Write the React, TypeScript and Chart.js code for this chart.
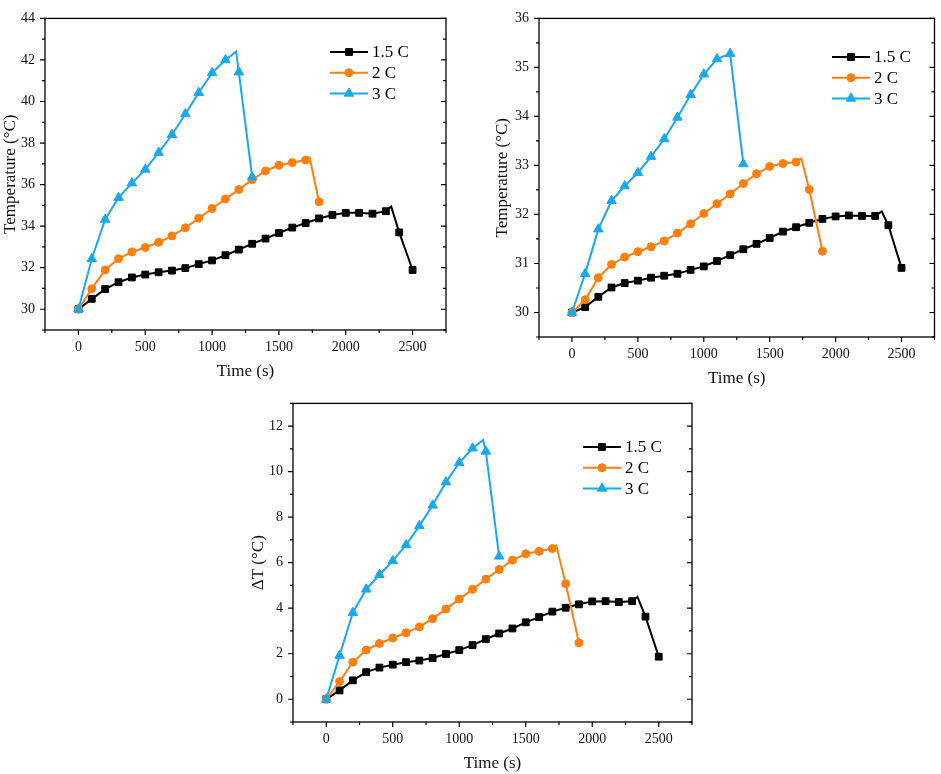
import React, { useEffect, useRef } from "react";
import { Chart, registerables } from "chart.js";

Chart.register(...registerables);

// ---------- shared labels ----------
const seriesNames = ["1.5 C", "2 C", "3 C"];
const xTickLabels = [0, 500, 1000, 1500, 2000, 2500];
const xMinorTicks = [-250, 250, 750, 1250, 1750, 2250, 2750];

// ---------- chart (a): Temperature ----------
const timeA15 = [0, 100, 200, 300, 400, 500, 600, 700, 800, 900, 1000, 1100, 1200, 1300, 1400, 1500, 1600, 1700, 1800, 1900, 2000, 2100, 2200, 2300, 2340, 2400, 2500];
const tempA15 = [30.0, 30.5, 30.97, 31.3, 31.53, 31.67, 31.78, 31.86, 31.98, 32.17, 32.35, 32.6, 32.87, 33.15, 33.4, 33.67, 33.93, 34.15, 34.37, 34.54, 34.64, 34.64, 34.6, 34.72, 34.94, 33.7, 31.89];
const timeA2 = [0, 100, 200, 300, 400, 500, 600, 700, 800, 900, 1000, 1100, 1200, 1300, 1400, 1500, 1600, 1700, 1730, 1800];
const tempA2 = [30.0, 30.99, 31.89, 32.43, 32.76, 32.97, 33.22, 33.53, 33.92, 34.38, 34.85, 35.31, 35.76, 36.24, 36.66, 36.93, 37.06, 37.18, 37.3, 35.17];
const timeA3 = [0, 100, 200, 300, 400, 500, 600, 700, 800, 900, 1000, 1100, 1180, 1200, 1300];
const tempA3 = [30.0, 32.43, 34.32, 35.37, 36.07, 36.73, 37.54, 38.4, 39.4, 40.42, 41.38, 42.0, 42.4, 41.41, 36.36];
const yTicksA = [30, 32, 34, 36, 38, 40, 42, 44];
const yMinorA = [29, 31, 33, 35, 37, 39, 41, 43];

// ---------- chart (b): Temperature ----------
const timeB15 = [0, 100, 200, 300, 400, 500, 600, 700, 800, 900, 1000, 1100, 1200, 1300, 1400, 1500, 1600, 1700, 1800, 1900, 2000, 2100, 2200, 2300, 2350, 2400, 2500];
const tempB15 = [30.0, 30.11, 30.32, 30.51, 30.6, 30.65, 30.71, 30.75, 30.79, 30.87, 30.94, 31.05, 31.17, 31.29, 31.4, 31.52, 31.65, 31.74, 31.83, 31.91, 31.96, 31.98, 31.97, 31.97, 32.06, 31.78, 30.91];
const timeB2 = [0, 100, 200, 300, 400, 500, 600, 700, 800, 900, 1000, 1100, 1200, 1300, 1400, 1500, 1600, 1700, 1740, 1800, 1900];
const tempB2 = [30.0, 30.26, 30.71, 30.98, 31.13, 31.24, 31.34, 31.46, 31.62, 31.81, 32.02, 32.22, 32.42, 32.63, 32.83, 32.98, 33.04, 33.07, 33.14, 32.51, 31.25];
const timeB3 = [0, 100, 200, 300, 400, 500, 600, 700, 800, 900, 1000, 1100, 1200, 1300];
const tempB3 = [30.0, 30.79, 31.7, 32.28, 32.58, 32.85, 33.18, 33.54, 33.98, 34.44, 34.86, 35.17, 35.28, 33.03];
const yTicksB = [30, 31, 32, 33, 34, 35, 36];
const yMinorB = [29.5, 30.5, 31.5, 32.5, 33.5, 34.5, 35.5];

// ---------- chart (c): Delta T ----------
const timeC15 = [0, 100, 200, 300, 400, 500, 600, 700, 800, 900, 1000, 1100, 1200, 1300, 1400, 1500, 1600, 1700, 1800, 1900, 2000, 2100, 2200, 2300, 2340, 2400, 2500];
const dtC15 = [0, 0.39, 0.83, 1.19, 1.39, 1.52, 1.63, 1.7, 1.81, 1.99, 2.16, 2.38, 2.64, 2.89, 3.11, 3.38, 3.61, 3.85, 4.02, 4.17, 4.3, 4.31, 4.27, 4.31, 4.5, 3.63, 1.87];
const timeC2 = [0, 100, 200, 300, 400, 500, 600, 700, 800, 900, 1000, 1100, 1200, 1300, 1400, 1500, 1600, 1700, 1730, 1800, 1900];
const dtC2 = [0, 0.78, 1.63, 2.16, 2.45, 2.69, 2.92, 3.18, 3.54, 3.96, 4.4, 4.83, 5.28, 5.7, 6.11, 6.39, 6.5, 6.62, 6.75, 5.08, 2.48];
const timeC3 = [0, 100, 200, 300, 400, 500, 600, 700, 800, 900, 1000, 1100, 1180, 1200, 1300];
const dtC3 = [0, 1.92, 3.8, 4.83, 5.47, 6.08, 6.78, 7.62, 8.52, 9.54, 10.39, 11.03, 11.39, 10.89, 6.28];
const yTicksC = [0, 2, 4, 6, 8, 10, 12];
const yMinorC = [-1, 1, 3, 5, 7, 9, 11, 13];

const COLORS = ["#000000", "#FF7F0E", "#19A8F0"];
const STYLES = ["rect", "circle", "triangle"];
const RADII = [4.8, 4, 5.5];
const FONT = "'Liberation Serif', 'Times New Roman', serif";

function pts(xs: number[], ys: number[]) {
  return xs.map((x, i) => ({ x, y: ys[i] }));
}

function drawMarker(ctx: CanvasRenderingContext2D, style: string, x: number, y: number, r: number) {
  ctx.beginPath();
  if (style === "rect") {
    const s = Math.SQRT1_2 * r;
    ctx.rect(x - s, y - s, 2 * s, 2 * s);
  } else if (style === "circle") {
    ctx.arc(x, y, r, 0, Math.PI * 2);
  } else {
    const a = (Math.PI * 2) / 3;
    ctx.moveTo(x, y - r);
    ctx.lineTo(x + Math.sin(a) * r, y - Math.cos(a) * r);
    ctx.lineTo(x + Math.sin(2 * a) * r, y - Math.cos(2 * a) * r);
    ctx.closePath();
  }
  ctx.fill();
  ctx.lineWidth = 1;
  ctx.stroke();
}

const framePlugin = {
  id: "frameTicksLegend",
  afterDraw(chart: any, _args: any, opts: any) {
    const { ctx, chartArea: a, scales } = chart;
    const xs = scales.x;
    const ys = scales.y;
    ctx.save();
    ctx.strokeStyle = "#000";
    ctx.lineWidth = 1.3;
    ctx.strokeRect(a.left, a.top, a.right - a.left, a.bottom - a.top);
    ctx.lineWidth = 1.2;
    ctx.beginPath();
    const MAJ = 5;
    const MIN = 3;
    for (const v of opts.xMajor) {
      const p = xs.getPixelForValue(v);
      ctx.moveTo(p, a.bottom);
      ctx.lineTo(p, a.bottom + MAJ);
    }
    for (const v of opts.xMinor) {
      const p = xs.getPixelForValue(v);
      ctx.moveTo(p, a.bottom);
      ctx.lineTo(p, a.bottom + MIN);
    }
    for (const v of opts.yMajor) {
      const p = ys.getPixelForValue(v);
      ctx.moveTo(a.left, p);
      ctx.lineTo(a.left - MAJ, p);
      ctx.moveTo(a.right, p);
      ctx.lineTo(a.right - MAJ, p);
    }
    for (const v of opts.yMinor) {
      const p = ys.getPixelForValue(v);
      ctx.moveTo(a.left, p);
      ctx.lineTo(a.left - MIN, p);
      ctx.moveTo(a.right, p);
      ctx.lineTo(a.right - MIN, p);
    }
    ctx.stroke();

    // legend
    ctx.font = `17px ${FONT}`;
    ctx.textBaseline = "middle";
    ctx.textAlign = "left";
    chart.data.datasets.forEach((ds: any, i: number) => {
      const y = opts.legendY + i * 20.7;
      const x0 = opts.legendX;
      ctx.strokeStyle = ds.borderColor;
      ctx.fillStyle = ds.borderColor;
      ctx.lineWidth = 2;
      ctx.beginPath();
      ctx.moveTo(x0, y);
      ctx.lineTo(x0 + 38, y);
      ctx.stroke();
      drawMarker(ctx, STYLES[i], x0 + 19, y, RADII[i]);
      ctx.fillStyle = "#000";
      ctx.fillText(ds.label, x0 + 42, y + 1);
    });
    ctx.restore();
  },
};

type Cfg = {
  left: number; top: number; w: number; h: number;
  pad: { left: number; top: number; right: number; bottom: number };
  yWidth: number; xHeight: number;
  yMin: number; yMax: number; yMajor: number[]; yMinor: number[];
  yTitle: string; xTitlePadBottom: number;
  legendX: number; legendY: number;
  series: { x: number[]; y: number[] }[];
};

function LineChart({ cfg }: { cfg: Cfg }) {
  const ref = useRef<HTMLCanvasElement>(null);
  useEffect(() => {
    if (!ref.current) return;
    const chart = new Chart(ref.current, {
      type: "line",
      data: {
        datasets: cfg.series.map((s, i) => ({
          label: seriesNames[i],
          data: pts(s.x, s.y),
          borderColor: COLORS[i],
          backgroundColor: COLORS[i],
          pointBackgroundColor: COLORS[i],
          pointBorderColor: COLORS[i],
          pointBorderWidth: 1,
          pointStyle: STYLES[i] as any,
          pointRadius: (c: any) => (c.raw && c.raw.x % 100 === 0 ? RADII[i] : 0),
          borderWidth: 2,
          tension: 0,
          order: 3 - i,
          clip: false as any,
        })),
      },
      options: {
        animation: false,
        responsive: false,
        events: [],
        layout: { padding: cfg.pad },
        plugins: {
          legend: { display: false },
          tooltip: { enabled: false },
          frameTicksLegend: {
            xMajor: xTickLabels,
            xMinor: xMinorTicks,
            yMajor: cfg.yMajor,
            yMinor: cfg.yMinor,
            legendX: cfg.legendX,
            legendY: cfg.legendY,
          },
        } as any,
        scales: {
          x: {
            type: "linear",
            min: -250,
            max: 2750,
            afterBuildTicks: (s: any) => {
              s.ticks = xTickLabels.map((v) => ({ value: v }));
            },
            afterFit: (s: any) => {
              s.height = cfg.xHeight;
            },
            grid: { display: false, drawTicks: false },
            border: { display: false },
            ticks: {
              padding: 9,
              maxRotation: 0,
              color: "#111",
              font: { family: FONT, size: 14 },
              callback: (v: any) => String(v),
            },
            title: {
              display: true,
              text: "Time (s)",
              color: "#111",
              font: { family: FONT, size: 17 },
              padding: { top: 0, bottom: cfg.xTitlePadBottom },
            },
          },
          y: {
            type: "linear",
            min: cfg.yMin,
            max: cfg.yMax,
            afterBuildTicks: (s: any) => {
              s.ticks = cfg.yMajor.map((v) => ({ value: v }));
            },
            afterFit: (s: any) => {
              s.width = cfg.yWidth;
            },
            grid: { display: false, drawTicks: false },
            border: { display: false },
            ticks: {
              padding: 10,
              color: "#111",
              font: { family: FONT, size: 14 },
              callback: (v: any) => String(v),
            },
            title: {
              display: true,
              text: cfg.yTitle,
              color: "#111",
              font: { family: FONT, size: 17 },
              padding: { top: 0, bottom: 0 },
            },
          },
        },
      },
      plugins: [framePlugin as any],
    });
    return () => chart.destroy();
  }, [cfg]);
  return (
    <div style={{ position: "absolute", left: cfg.left, top: cfg.top, width: cfg.w, height: cfg.h }}>
      <canvas ref={ref} width={cfg.w} height={cfg.h} style={{ width: cfg.w, height: cfg.h, display: "block" }} />
    </div>
  );
}

const cfgA: Cfg = {
  left: 0, top: 0, w: 470, h: 385,
  pad: { left: 0, top: 7, right: 24, bottom: 0 },
  yWidth: 45, xHeight: 55,
  yMin: 29, yMax: 44, yMajor: yTicksA, yMinor: yMinorA,
  yTitle: "Temperature (°C)", xTitlePadBottom: 3,
  legendX: 330, legendY: 52,
  series: [
    { x: timeA15, y: tempA15 },
    { x: timeA2, y: tempA2 },
    { x: timeA3, y: tempA3 },
  ],
};

const cfgB: Cfg = {
  left: 470, top: 0, w: 471, h: 390,
  pad: { left: 22, top: 15, right: 3, bottom: 0 },
  yWidth: 47, xHeight: 53,
  yMin: 29.5, yMax: 36, yMajor: yTicksB, yMinor: yMinorB,
  yTitle: "Temperature (°C)", xTitlePadBottom: 1,
  legendX: 362, legendY: 57,
  series: [
    { x: timeB15, y: tempB15 },
    { x: timeB2, y: tempB2 },
    { x: timeB3, y: tempB3 },
  ],
};

const cfgC: Cfg = {
  left: 240, top: 385, w: 470, h: 389,
  pad: { left: 8, top: 15, right: 18, bottom: 0 },
  yWidth: 45, xHeight: 52,
  yMin: -1, yMax: 13, yMajor: yTicksC, yMinor: yMinorC,
  yTitle: "ΔT (°C)", xTitlePadBottom: 0,
  legendX: 343, legendY: 62,
  series: [
    { x: timeC15, y: dtC15 },
    { x: timeC2, y: dtC2 },
    { x: timeC3, y: dtC3 },
  ],
};

export default function App() {
  return (
    <div style={{ position: "fixed", left: 0, top: 0, width: 941, height: 774, background: "#fff", overflow: "hidden" }}>
      <LineChart cfg={cfgA} />
      <LineChart cfg={cfgB} />
      <LineChart cfg={cfgC} />
    </div>
  );
}
